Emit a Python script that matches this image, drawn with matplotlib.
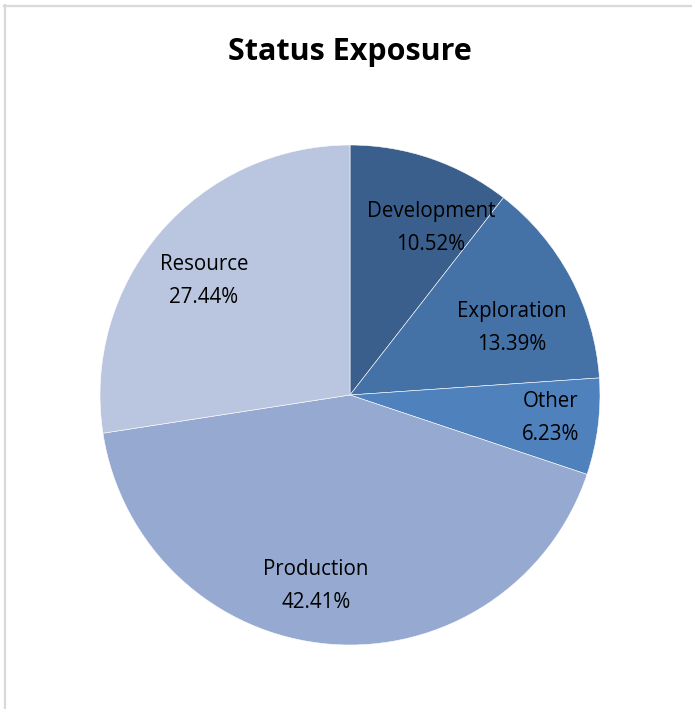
import matplotlib.pyplot as plt
from matplotlib.lines import Line2D

# data
categories = ['Development', 'Exploration', 'Other', 'Production', 'Resource']
shares = [10.52, 13.39, 6.23, 42.41, 27.44]
colors = ['#3b5f8c', '#4472a7', '#4f81bd', '#95a9d1', '#bac6e0']

# where each data label sits (pie radius = 1), like Excel's placement
label_xy = [(0.324, 0.668), (0.648, 0.268), (0.804, -0.092), (-0.136, -0.764), (-0.584, 0.456)]

W, H = 692, 709
fig = plt.figure(figsize=(W / 100, H / 100), dpi=100)
plt.rcParams['font.family'] = ['Open Sans', 'DejaVu Sans']

# light frame (only top and left edge visible in the crop)
fig.add_artist(Line2D([4.5 / W, 4.5 / W], [0, 1 - 5 / H], color='#d9d9d9', lw=1.6,
                      transform=fig.transFigure))
fig.add_artist(Line2D([4 / W, 1], [1 - 5.5 / H, 1 - 5.5 / H], color='#d9d9d9', lw=1.6,
                      transform=fig.transFigure))

ax = fig.add_axes([100 / W, (H - 645) / H, 500 / W, 500 / H])
labels = ['%s\n%.2f%%' % (c, s) for c, s in zip(categories, shares)]
wedges, texts = ax.pie(shares, colors=colors, startangle=90, counterclock=False,
                       labels=labels, labeldistance=0.8,
                       wedgeprops=dict(edgecolor='white', linewidth=0.4),
                       textprops=dict(fontsize=14.8, color='black', ha='center',
                                      va='center', linespacing=1.7))
for t, xy in zip(texts, label_xy):
    t.set_position(xy)
    t.set_ha('center')
    t.set_va('center')
ax.set_xlim(-1, 1)
ax.set_ylim(-1, 1)
ax.set_aspect('equal')

fig.text(350 / W, 1 - 52 / H, 'Status Exposure', ha='center', va='center',
         fontsize=22, fontweight='bold')

fig.savefig('out.png', dpi=100, facecolor='white')
